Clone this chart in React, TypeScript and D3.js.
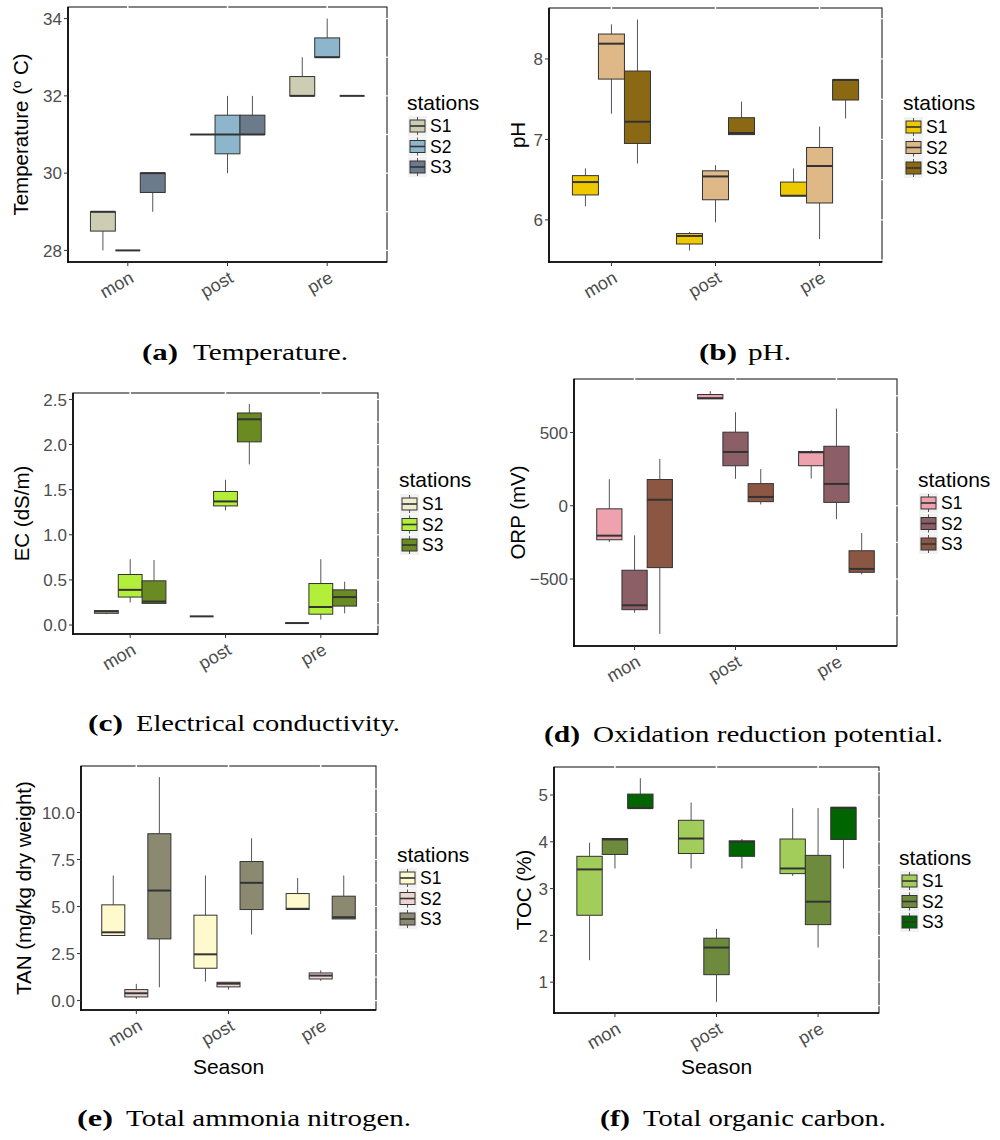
import React from "react";
import * as d3 from "d3";

const seasons = ["mon", "post", "pre"];
const stations = ["S1", "S2", "S3"];

// [lower whisker, q1, median, q3, upper whisker] per station, per season
const tempStats = [
  [[28, 28.5, 29, 29, 29], [31, 31, 31, 31, 31], [32, 32, 32, 32.5, 33]],
  [[28, 28, 28, 28, 28], [30, 30.5, 31, 31.5, 32], [33, 33, 33, 33.5, 34]],
  [[29, 29.5, 30, 30, 30], [31, 31, 31, 31.5, 32], [32, 32, 32, 32, 32]],
];
const phStats = [
  [[6.17, 6.31, 6.47, 6.55, 6.64], [5.62, 5.7, 5.8, 5.83, 5.85], [6.3, 6.3, 6.3, 6.47, 6.64]],
  [[7.32, 7.75, 8.19, 8.31, 8.43], [5.97, 6.25, 6.54, 6.61, 6.68], [5.76, 6.21, 6.67, 6.9, 7.16]],
  [[6.7, 6.95, 7.22, 7.85, 8.49], [7.06, 7.06, 7.08, 7.27, 7.47], [7.26, 7.49, 7.74, 7.74, 7.75]],
];
const ecStats = [
  [[0.12, 0.13, 0.15, 0.16, 0.16], [0.096, 0.096, 0.096, 0.096, 0.096], [0.022, 0.022, 0.022, 0.022, 0.022]],
  [[0.25, 0.31, 0.39, 0.56, 0.73], [1.27, 1.32, 1.37, 1.48, 1.61], [0.06, 0.12, 0.2, 0.46, 0.73]],
  [[0.24, 0.24, 0.26, 0.49, 0.72], [1.78, 2.03, 2.28, 2.35, 2.45], [0.13, 0.21, 0.31, 0.39, 0.48]],
];
const orpStats = [
  [[-248, -232, -204, -21, 181], [730, 730, 734, 759, 782], [186, 273, 365, 369, 378]],
  [[-730, -709, -679, -440, -202], [184, 273, 367, 502, 638], [-92, 23, 149, 406, 663]],
  [[-874, -422, 41, 179, 319], [9, 28, 60, 151, 250], [-468, -454, -431, -307, -186]],
];
const tanStats = [
  [[3.46, 3.46, 3.63, 5.09, 6.65], [1.01, 1.72, 2.46, 4.54, 6.65], [4.84, 4.84, 4.88, 5.69, 6.52]],
  [[0.09, 0.195, 0.39, 0.585, 0.89], [0.585, 0.73, 0.9, 0.975, 0.975], [1.05, 1.15, 1.33, 1.47, 1.61]],
  [[0.71, 3.28, 5.85, 8.87, 11.88], [3.51, 4.84, 6.26, 7.39, 8.63], [4.34, 4.34, 4.43, 5.55, 6.65]],
];
const tocStats = [
  [[1.47, 2.43, 3.41, 3.69, 3.98], [3.43, 3.75, 4.07, 4.46, 4.84], [3.27, 3.32, 3.43, 4.06, 4.72]],
  [[3.43, 3.73, 4.05, 4.07, 4.07], [0.58, 1.16, 1.74, 1.94, 2.14], [1.74, 2.23, 2.72, 3.71, 4.72]],
  [[4.72, 4.72, 4.72, 5.02, 5.36], [3.43, 3.69, 4.0, 4.02, 4.06], [3.43, 4.05, 4.73, 4.73, 4.73]],
];

const tempTicks = [28, 30, 32, 34];
const phTicks = [6, 7, 8];
const ecTicks = [0, 0.5, 1, 1.5, 2, 2.5];
const orpTicks = [-500, 0, 500];
const tanTicks = [0, 2.5, 5, 7.5, 10];
const tocTicks = [1, 2, 3, 4, 5];

const tempColors = ["#CDCDB4", "#8DB6CD", "#6C7B8B"];
const phColors = ["#EEC900", "#DEB887", "#8B6914"];
const ecColors = ["#EEEED1", "#B3EE3A", "#698B22"];
const orpColors = ["#EEA2AD", "#8B5F65", "#8B5742"];
const tanColors = ["#FFFACD", "#EED5D2", "#8B8970"];
const tocColors = ["#A2CD5A", "#6E8B3D", "#006400"];

const SANS = "'Liberation Sans', Arial, sans-serif";
const SERIF = "'Liberation Serif', 'Times New Roman', serif";

type Layout = {
  l: number; r: number; t: number; b: number;
  titleX: number; legX: number; legY: number; keyY: number;
  xTitleY?: number;
};

function Panel(props: {
  stats: number[][][]; ticks: number[]; colors: string[]; fmt: (v: number) => string;
  title: React.ReactNode; lay: Layout; id: string;
}) {
  const { stats, ticks, colors, fmt, title, lay, id } = props;
  const x = d3.scaleBand<string>().domain(seasons).range([lay.l, lay.r]).paddingInner(0).paddingOuter(0.1);
  const step = x.step();
  const xs = d3.scaleBand<string>().domain(stations).range([0.125 * step, 0.875 * step]);
  const all = stats.flat(2);
  const [mn, mx] = d3.extent(all) as [number, number];
  const pad = (mx - mn) * 0.05;
  const y = d3.scaleLinear().domain([mn - pad, mx + pad]).range([lay.b, lay.t]);
  const minor = ticks.slice(0, -1).map((v, i) => (v + ticks[i + 1]) / 2)
    .concat([ticks[0] - (ticks[1] - ticks[0]) / 2, ticks[ticks.length - 1] + (ticks[1] - ticks[0]) / 2])
    .filter((v) => y(v) > lay.t && y(v) < lay.b);
  const stroke = "#333333";
  return (
    <g>
      <rect x={lay.l} y={lay.t} width={lay.r - lay.l} height={lay.b - lay.t} fill="#fff" stroke="#222" strokeWidth={1.1} />
      {seasons.map((s) => (
        <line key={"gx" + s} x1={x(s)! + step / 2} x2={x(s)! + step / 2} y1={lay.t - 1.5} y2={lay.t + 1.5} stroke="#fff" strokeWidth={1.5} />
      ))}
      {ticks.concat(minor).map((v, i) => (
        <line key={"gy" + i} x1={lay.r - 1.5} x2={lay.r + 1.5} y1={y(v)} y2={y(v)} stroke="#fff" strokeWidth={1.2} />
      ))}
      {stats.map((series, j) =>
        series.map((q, i) => {
          const x0 = x(seasons[i])! + xs(stations[j])!;
          const w = xs.bandwidth();
          const cx = x0 + w / 2;
          return (
            <g key={id + j + "-" + i}>
              <line x1={cx} x2={cx} y1={y(q[0])} y2={y(q[1])} stroke="#555" strokeWidth={1} />
              <line x1={cx} x2={cx} y1={y(q[3])} y2={y(q[4])} stroke="#555" strokeWidth={1} />
              <rect x={x0} y={y(q[3])} width={w} height={Math.max(0, y(q[1]) - y(q[3]))} fill={colors[j]} stroke={stroke} strokeWidth={1} />
              <line x1={x0} x2={x0 + w} y1={y(q[2])} y2={y(q[2])} stroke={stroke} strokeWidth={2} />
            </g>
          );
        })
      )}
      <line x1={lay.l} x2={lay.l} y1={lay.t} y2={lay.b + 0.8} stroke="#000" strokeWidth={1.6} />
      <line x1={lay.l - 0.8} x2={lay.r} y1={lay.b} y2={lay.b} stroke="#000" strokeWidth={1.6} />
      {ticks.map((v) => (
        <g key={"yt" + v}>
          <line x1={lay.l - 4} x2={lay.l} y1={y(v)} y2={y(v)} stroke="#333" strokeWidth={1} />
          <text x={lay.l - 6} y={y(v)} dy="0.36em" textAnchor="end" fontSize={17} fill="#4D4D4D" fontFamily={SANS}>{fmt(v)}</text>
        </g>
      ))}
      {seasons.map((s) => {
        const cx = x(s)! + step / 2;
        return (
          <g key={"xt" + s}>
            <line x1={cx} x2={cx} y1={lay.b} y2={lay.b + 4} stroke="#333" strokeWidth={1} />
            <text transform={`translate(${cx},${lay.b + 7}) rotate(-30)`} dy="0.78em" textAnchor="end" fontSize={18} fill="#4D4D4D" fontFamily={SANS}>{s}</text>
          </g>
        );
      })}
      <text transform={`translate(${lay.titleX},${(lay.t + lay.b) / 2}) rotate(-90)`} textAnchor="middle" fontSize={20.5} fill="#000" fontFamily={SANS}>{title}</text>
      {lay.xTitleY !== undefined && (
        <text x={(lay.l + lay.r) / 2} y={lay.xTitleY} textAnchor="middle" fontSize={21} fill="#000" fontFamily={SANS}>Season</text>
      )}
      <text x={lay.legX} y={lay.legY} fontSize={21} fill="#000" fontFamily={SANS}>stations</text>
      {stations.map((s, j) => {
        const cy = lay.keyY + j * 20.5;
        const kx = lay.legX + 1;
        return (
          <g key={"lg" + s}>
            <rect x={kx} y={cy - 10} width={19} height={20} fill="#F2F2F2" />
            <line x1={kx + 9.5} x2={kx + 9.5} y1={cy - 9} y2={cy + 9} stroke="#555" strokeWidth={1} />
            <rect x={kx + 2} y={cy - 6} width={15} height={12} fill={colors[j]} stroke={stroke} strokeWidth={1} />
            <line x1={kx + 2} x2={kx + 17} y1={cy} y2={cy} stroke={stroke} strokeWidth={1.6} />
            <text x={lay.legX + 23} y={cy} dy="0.36em" fontSize={17.5} fill="#000" fontFamily={SANS}>{s}</text>
          </g>
        );
      })}
    </g>
  );
}

function Caption(props: { label: string; text: string; x0: number; x1: number; x2: number; x3: number; y: number }) {
  const { label, text, x0, x1, x2, x3, y } = props;
  return (
    <g fontFamily={SERIF} fontSize={23} fill="#000">
      <text x={x0} y={y} fontWeight="bold" textLength={x1 - x0} lengthAdjust="spacingAndGlyphs">{label}</text>
      <text x={x2} y={y} textLength={x3 - x2} lengthAdjust="spacingAndGlyphs">{text}</text>
    </g>
  );
}

const f0 = (v: number) => d3.format("d")(v);
const f1 = (v: number) => d3.format(".1f")(v);

export default function App() {
  return (
    <svg width={1000} height={1140} style={{ position: "absolute", left: 0, top: 0, background: "#fff" }}>
      <rect width={1000} height={1140} fill="#fff" />
      <Panel id="a" stats={tempStats} ticks={tempTicks} colors={tempColors} fmt={f0}
        title={<>Temperature (<tspan dy={-7} fontSize={13}>o</tspan><tspan dy={7}> C)</tspan></>}
        lay={{ l: 68, r: 387, t: 7, b: 262, titleX: 28, legX: 407, legY: 110, keyY: 126 }} />
      <Panel id="b" stats={phStats} ticks={phTicks} colors={phColors} fmt={f0} title="pH"
        lay={{ l: 549, r: 882, t: 8, b: 262, titleX: 525, legX: 903, legY: 110, keyY: 127 }} />
      <Panel id="c" stats={ecStats} ticks={ecTicks} colors={ecColors} fmt={f1} title="EC (dS/m)"
        lay={{ l: 73, r: 378, t: 393, b: 634, titleX: 29, legX: 399, legY: 487, keyY: 504 }} />
      <Panel id="d" stats={orpStats} ticks={orpTicks} colors={orpColors} fmt={f0} title="ORP (mV)"
        lay={{ l: 574, r: 897, t: 379, b: 646, titleX: 525, legX: 918, legY: 487, keyY: 503 }} />
      <Panel id="e" stats={tanStats} ticks={tanTicks} colors={tanColors} fmt={f1} title="TAN (mg/kg dry weight)"
        lay={{ l: 81, r: 376, t: 766, b: 1010, titleX: 31, legX: 397, legY: 862, keyY: 878, xTitleY: 1074 }} />
      <Panel id="f" stats={tocStats} ticks={tocTicks} colors={tocColors} fmt={f0} title="TOC (%)"
        lay={{ l: 554, r: 879, t: 767, b: 1013, titleX: 531, legX: 899, legY: 865, keyY: 881, xTitleY: 1074 }} />
      <Caption label="(a)" text="Temperature." x0={142} x1={178} x2={193} x3={348} y={360} />
      <Caption label="(b)" text="pH." x0={699} x1={737} x2={748} x3={791} y={360} />
      <Caption label="(c)" text="Electrical conductivity." x0={88} x1={123} x2={136} x3={400} y={731} />
      <Caption label="(d)" text="Oxidation reduction potential." x0={544} x1={580} x2={593} x3={943} y={742} />
      <Caption label="(e)" text="Total ammonia nitrogen." x0={77} x1={113} x2={126} x3={411} y={1126} />
      <Caption label="(f)" text="Total organic carbon." x0={600} x1={630} x2={643} x3={886} y={1126} />
    </svg>
  );
}
